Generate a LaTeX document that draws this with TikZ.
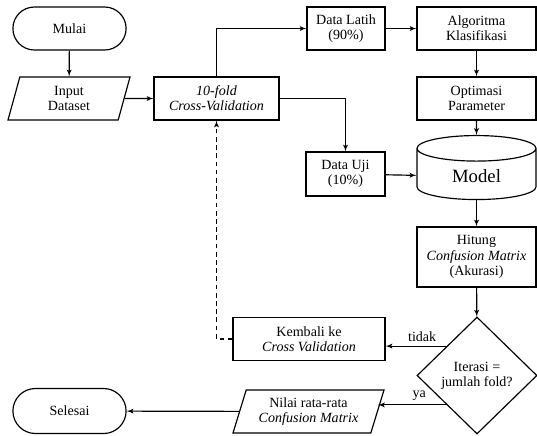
\documentclass[tikz,border=0pt]{standalone}
\usepackage{fontspec}
\setmainfont{Liberation Serif}[Ligatures=TeX]
\renewcommand\familydefault{\rmdefault}
\usetikzlibrary{arrows,shapes,positioning,calc}

\tikzset{
  proc/.style={rectangle,draw,align=center,minimum height=1.29cm,inner sep=2pt},
  term/.style={rounded rectangle,draw,align=center,minimum width=3.63cm,minimum height=1.29cm},
  io/.style={trapezium,trapezium left angle=68,trapezium right angle=112,trapezium stretches body,draw,align=center,minimum height=1.29cm,inner sep=2pt},
  db/.style={cylinder,shape border rotate=90,aspect=0.45,draw,align=center},
  dec/.style={diamond,draw,align=center,inner sep=0pt},
  arr/.style={-latex'}
}

\begin{document}
\begin{tikzpicture}[x=0.03cm,y=-0.03cm,line width=1pt,font=\rmfamily\fontsize{12}{13}\selectfont]
	\useasboundingbox (0,0) rectangle (537,435);
	% kolom kiri
	\node[term] (mulai) at (69.5,28.5) {Mulai};
	\node[io, minimum width=3.66cm] (input) at (69,98.5) {Input\\Dataset};
	\node[proc, minimum width=3.75cm] (cv) at (216.5,98.5) {\textit{10-fold}\\\textit{Cross-Validation}};
	% pelatihan
	\node[proc, minimum width=2.34cm] (latih) at (346,28.5) {Data Latih\\(90\%)};
	\node[proc, minimum width=3.57cm] (algo) at (476.5,28.5) {Algoritma\\Klasifikasi};
	\node[proc, minimum width=3.57cm] (opt) at (476.5,98.5) {Optimasi\\Parameter};
	\node[db, minimum width=3.57cm, minimum height=1.92cm, font=\rmfamily\fontsize{16}{18}\selectfont] (model) at (476.5,176.5) {\raisebox{-5pt}{Model}};
	\node[proc, minimum width=2.37cm, minimum height=1.32cm] (uji) at (345.5,174) {Data Uji\\(10\%)};
	% evaluasi
	\node[proc, minimum width=3.57cm, minimum height=1.8cm] (hitung) at (476.5,257) {Hitung\\\textit{Confusion Matrix}\\(Akurasi)};
	\node[dec, minimum width=3.6cm, minimum height=3.51cm] (iter) at (477,375.5) {Iterasi =\\jumlah fold?};
	\node[proc, minimum width=4.56cm] (kembali) at (309,339) {Kembali ke\\\textit{Cross Validation}};
	\node[io, minimum width=4.53cm] (nilai) at (308.5,411.5) {Nilai rata-rata\\\textit{Confusion Matrix}};
	\node[term, minimum height=1.35cm] (selesai) at (69.5,411) {Selesai};

	\draw[arr] (mulai) -- (input);
	\draw[arr] (input) -- (cv);
	\draw[arr] (cv.north) |- (latih);
	\draw[arr] (latih) -- (algo);
	\draw[arr] (algo) -- (opt);
	\draw[arr] (opt) -- (model);
	\draw[arr] (cv.east) -| (uji.north);
	\draw[arr] (uji) -- (model);
	\draw[arr] (model) -- (hitung);
	\draw[arr] (hitung) -- (iter);
	\draw[arr] (iter.136) -- (iter.136 -| kembali.east) node[pos=0.4, above]{tidak};
	\draw[arr] (iter.224) -- (iter.224 -| nilai.east) node[pos=0.4, above]{ya};
	\draw[arr, dash pattern=on 4pt off 3pt] (kembali.west) -| (cv.south);
	\draw[arr] (nilai) -- (selesai);
\end{tikzpicture}
\end{document}
